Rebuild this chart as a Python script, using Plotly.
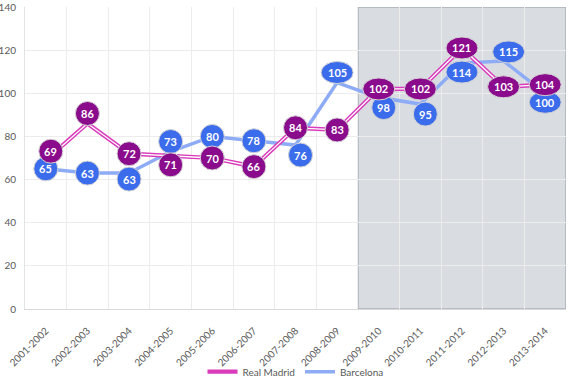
import plotly.graph_objects as go

seasons = ["2001-2002", "2002-2003", "2003-2004", "2004-2005", "2005-2006", "2006-2007",
           "2007-2008", "2008-2009", "2009-2010", "2010-2011", "2011-2012", "2012-2013", "2013-2014"]
real_madrid = [69, 86, 72, 71, 70, 66, 84, 83, 102, 102, 121, 103, 104]
barcelona = [65, 63, 63, 73, 80, 78, 76, 105, 98, 95, 114, 115, 100]
y_ticks = [0, 20, 40, 60, 80, 100, 120, 140]

# data-label placement (Excel-style label positions)
rm_label_pos = ["above-right", "above", "center", "below", "center", "center", "center",
                "center", "center", "center", "center", "center", "center"]
fcb_label_pos = ["center", "center", "below-s", "above", "center", "center", "below-right",
                 "above", "below-right", "below-right", "below", "above-right", "below"]
highlight_from = "2009-2010"

PLACE = {
    "center": (0, 0),
    "above": (0, 10),
    "below": (0, -9),
    "below-s": (0, -6),
    "above-right": (5, 9),
    "below-right": (5, -10),
}

RM_BUBBLE = "#8a0b8c"
FCB_BUBBLE = "#3b6cec"
RM_LINE = "#d93bbb"
FCB_LINE = "#8eabf6"
TXT = "#595959"
FONT = "Lato, 'Liberation Sans', sans-serif"

xs = list(range(len(seasons)))

fig = go.Figure()
fig.add_trace(go.Scatter(x=xs, y=barcelona, mode="lines", name="Barcelona",
                         line=dict(color=FCB_LINE, width=3.5), legendrank=2))
fig.add_trace(go.Scatter(x=xs, y=real_madrid, mode="lines", name="Real Madrid",
                         line=dict(color=RM_LINE, width=4.2), legendrank=1))
fig.add_trace(go.Scatter(x=xs, y=real_madrid, mode="lines", showlegend=False,
                         hoverinfo="skip", line=dict(color="white", width=1.3)))

shapes = []
annotations = []
hi = seasons.index(highlight_from)
shapes.append(dict(type="rect", xref="x", yref="y", x0=hi - 0.5, x1=len(seasons) - 0.5,
                   y0=y_ticks[0], y1=y_ticks[-1], fillcolor="#d9dce1",
                   line=dict(color="#aab0b8", width=1.5), layer="below"))


def add_labels(values, places, color):
    for i, v in enumerate(values):
        dx, dy = PLACE[places[i]]
        txt = str(v)
        w = 24 if len(txt) < 3 else 32
        h = 24 if len(txt) < 3 else 22
        shapes.append(dict(type="circle", xref="x", yref="y", xsizemode="pixel",
                           ysizemode="pixel", xanchor=i, yanchor=v,
                           x0=dx - w / 2, x1=dx + w / 2, y0=dy - h / 2, y1=dy + h / 2,
                           fillcolor=color, line=dict(color="#d4d4d4", width=1),
                           layer="above"))
        annotations.append(dict(x=i, y=v, xref="x", yref="y", text="<b>%s</b>" % txt,
                                showarrow=False, xshift=dx, yshift=dy,
                                font=dict(family=FONT, size=11, color="white")))


add_labels(barcelona, fcb_label_pos, FCB_BUBBLE)
add_labels(real_madrid, rm_label_pos, RM_BUBBLE)

fig.update_layout(
    width=570, height=380,
    margin=dict(l=25, r=4, t=7, b=71),
    paper_bgcolor="white", plot_bgcolor="white",
    font=dict(family=FONT, size=10, color=TXT),
    shapes=shapes, annotations=annotations,
    showlegend=True,
    legend=dict(orientation="h", x=0.5, xanchor="center", xref="paper",
                y=0.022, yanchor="middle", yref="container",
                bgcolor="rgba(0,0,0,0)", tracegroupgap=0,
                font=dict(size=10, color=TXT), itemwidth=30, traceorder="normal"),
    xaxis=dict(range=[-0.5, len(seasons) - 0.5], tickmode="array", tickvals=xs,
               ticktext=seasons, tickangle=-45, showgrid=False, zeroline=False,
               showline=True, linecolor="#d9d9d9", linewidth=1, ticks="",
               automargin=False, ticklabelstandoff=11,
               tickfont=dict(size=10, color=TXT),
               minor=dict(tickmode="linear", tick0=0.5, dtick=1, showgrid=True,
                          gridcolor="#ececec", gridwidth=1, ticks="")),
    yaxis=dict(range=[y_ticks[0], y_ticks[-1]], tickmode="array", tickvals=y_ticks,
               showgrid=True, gridcolor="#ececec", gridwidth=1, zeroline=False,
               showline=True, linecolor="#e3e3e3", ticks="", ticklabelstandoff=6,
               automargin=False, tickfont=dict(size=10, color=TXT)),
)

fig.write_html("out.html", config={"displayModeBar": False},
               post_script="document.body.style.margin='0';document.body.style.padding='0';")
